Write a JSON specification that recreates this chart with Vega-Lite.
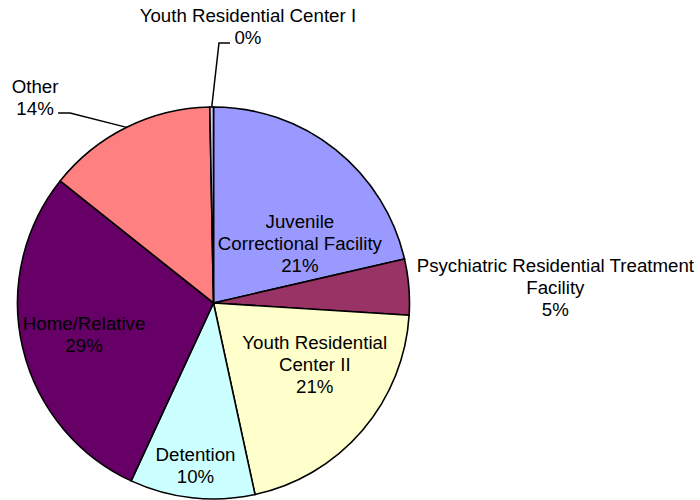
{
  "$schema": "https://vega.github.io/schema/vega-lite/v6.json",
  "width": 392,
  "height": 392,
  "autosize": {"type": "none"},
  "padding": {"left": 17.5, "top": 107, "right": 290.5, "bottom": 1},
  "background": "white",
  "config": {"view": {"stroke": null}, "text": {"font": "Liberation Sans"}},
  "layer": [
    {
      "data": {
        "values": [
          {"category": "Juvenile Correctional Facility", "label": "Juvenile\nCorrectional Facility", "share": 21.4},
          {"category": "Psychiatric Residential Treatment Facility", "label": "Psychiatric Residential Treatment\nFacility", "share": 4.6},
          {"category": "Youth Residential Center II", "label": "Youth Residential\nCenter II", "share": 20.6},
          {"category": "Detention", "label": "Detention", "share": 10.3},
          {"category": "Home/Relative", "label": "Home/Relative", "share": 28.8},
          {"category": "Other", "label": "Other", "share": 14.0},
          {"category": "Youth Residential Center I", "label": "Youth Residential Center I", "share": 0.3}
        ]
      },
      "transform": [
        {"window": [{"op": "row_number", "as": "idx"}]},
        {"calculate": "datum.label + '\\n' + format(datum.share / 100, '.0%')", "as": "txt"}
      ],
      "layer": [
        {
          "mark": {"type": "arc", "stroke": "black", "strokeWidth": 1.6},
          "encoding": {
            "theta": {"field": "share", "type": "quantitative", "stack": true},
            "order": {"field": "idx", "type": "quantitative"},
            "color": {
              "field": "category",
              "type": "nominal",
              "legend": null,
              "scale": {
                "domain": ["Juvenile Correctional Facility", "Psychiatric Residential Treatment Facility", "Youth Residential Center II", "Detention", "Home/Relative", "Other", "Youth Residential Center I"],
                "range": ["#9999FF", "#993366", "#FFFFCC", "#CCFFFF", "#660066", "#FF8080", "#CCCCFF"]
              }
            }
          }
        },
        {
          "mark": {
            "type": "text",
            "radius": {"expr": "[105,342,119,164,133,272,278][datum.idx-1]"},
            "dx": {"expr": "[21,1,11,0,0,-58,37][datum.idx-1]"},
            "dy": {"expr": "[1,-9,-38,-11,-10,28,-9][datum.idx-1]"},
            "fontSize": 18.7,
            "lineHeight": 22,
            "lineBreak": "\n",
            "align": "center",
            "baseline": "middle",
            "color": "black"
          },
          "encoding": {
            "theta": {"field": "share", "type": "quantitative", "stack": true},
            "order": {"field": "idx", "type": "quantitative"},
            "detail": {"field": "category", "type": "nominal"},
            "text": {"field": "txt", "type": "nominal"}
          }
        }
      ]
    },
    {
      "data": {
        "values": [
          {"leader": "Youth Residential Center I", "o": 1, "px": -0.009, "py": 1.0},
          {"leader": "Youth Residential Center I", "o": 2, "px": 0.028, "py": 1.327},
          {"leader": "Youth Residential Center I", "o": 3, "px": 0.084, "py": 1.327},
          {"leader": "Other", "o": 1, "px": -0.443, "py": 0.896},
          {"leader": "Other", "o": 2, "px": -0.732, "py": 0.969},
          {"leader": "Other", "o": 3, "px": -0.793, "py": 0.969}
        ]
      },
      "mark": {"type": "line", "color": "black", "strokeWidth": 1.5},
      "encoding": {
        "x": {"field": "px", "type": "quantitative", "axis": null, "scale": {"domain": [-1, 1], "nice": false, "zero": false}},
        "y": {"field": "py", "type": "quantitative", "axis": null, "scale": {"domain": [-1, 1], "nice": false, "zero": false}},
        "detail": {"field": "leader", "type": "nominal"},
        "order": {"field": "o", "type": "quantitative"}
      }
    }
  ]
}
